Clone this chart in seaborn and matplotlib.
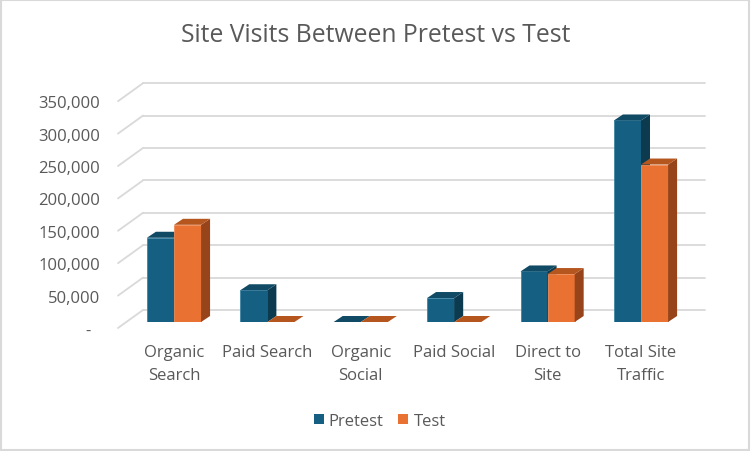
import matplotlib
matplotlib.use("Agg")
import matplotlib.pyplot as plt
import seaborn as sns
import pandas as pd
from matplotlib.patches import Polygon, Rectangle
from matplotlib.lines import Line2D
from matplotlib.transforms import ScaledTranslation, IdentityTransform

# ---- data ----
categories = ["Organic\nSearch", "Paid Search", "Organic\nSocial",
              "Paid Social", "Direct to\nSite", "Total Site\nTraffic"]
series = ["Pretest", "Test"]
pretest = [130000, 49000, 0, 37000, 78000, 311000]
test = [150000, 0, 0, 0, 74000, 243000]
yticks = [0, 50000, 100000, 150000, 200000, 250000, 300000, 350000]
ytick_labels = ["-  ", "50,000", "100,000", "150,000", "200,000",
                "250,000", "300,000", "350,000"]
title = "Site Visits Between Pretest vs Test"

df = pd.DataFrame({
    "category": categories * 2,
    "series": [series[0]] * len(categories) + [series[1]] * len(categories),
    "visits": pretest + test,
})

# ---- style ----
front = {"Pretest": "#156082", "Test": "#E97132"}
topc = {"Pretest": "#104a64", "Test": "#b5561f"}
sidec = {"Pretest": "#0c3b50", "Test": "#97441a"}
edgec = {"Pretest": "#3f86a6", "Test": "#f08d57"}
txt = "#595959"
grid = "#d9d9d9"
fs = 12

sns.set_theme(style="white")
plt.rcParams['font.family'] = ['Open Sans', 'DejaVu Sans']

W, H = 751, 452
fig = plt.figure(figsize=(W / 100, H / 100), dpi=100)
x0, x1 = 127, 689          # plane of the bar fronts, pixels
ybase, ytop = 323, 96.2
ax = fig.add_axes([x0 / W, (H - ybase) / H, (x1 - x0) / W, (ybase - ytop) / H])
ax.patch.set_alpha(0)

sns.barplot(data=df, x="category", y="visits", hue="series",
            order=categories, hue_order=series,
            palette=[front[s] for s in series], saturation=1,
            width=0.58, ax=ax, legend=False, errorbar=None)
ax.set_xlim(-0.503, 5.514)
ax.set_ylim(0, 350000)
for s in ax.spines.values():
    s.set_visible(False)
ax.set_xlabel("")
ax.set_ylabel("")
ax.set_yticks(yticks, ytick_labels)
ax.tick_params(axis="y", length=0, pad=19.4, labelsize=fs, labelcolor=txt)
ax.tick_params(axis="x", length=0, pad=15.5, labelsize=fs, labelcolor=txt)
for lab in ax.get_xticklabels():
    lab.set_linespacing(1.6)
    lab.set_verticalalignment("top")
for lab in ax.get_yticklabels():
    lab.set_transform(lab.get_transform() + ScaledTranslation(0, -0.06, fig.dpi_scale_trans))

# back wall gridlines + diagonal floor/wall ticks
gdx, gdy = 16, 12
fdx, fdy = 9, 6
off = ScaledTranslation(gdx / 100, gdy / 100, fig.dpi_scale_trans)
for v in yticks:
    ax.plot([0, 1], [v, v], color=grid, lw=1.3,
            transform=ax.get_yaxis_transform() + off, zorder=0.5, clip_on=False)

fig.canvas.draw()
for v in yticks:
    px, py = ax.transData.transform((ax.get_xlim()[0], v))
    ax.add_line(Line2D([px - fdx, px + gdx], [py - fdy, py + gdy], color=grid, lw=1.3,
                       transform=IdentityTransform(), clip_on=False, zorder=0.5))

# 3D faces of bars
bdx, bdy = 9, 6
for i, (cont, s) in enumerate(zip(ax.containers, series)):
    z = 2 + i
    for r in cont:
        r.set_zorder(z)
        r.set_edgecolor(edgec[s])
        r.set_linewidth(0.6)
        x, w, h = r.get_x(), r.get_width(), r.get_height()
        xl, yb = ax.transData.transform((x, 0))
        xr, yt = ax.transData.transform((x + w, h))
        side = Polygon([(xr, yb), (xr + bdx, yb + bdy), (xr + bdx, yt + bdy), (xr, yt)],
                       closed=True, facecolor=sidec[s], edgecolor="none",
                       transform=IdentityTransform(), clip_on=False, zorder=z + 0.1)
        top = Polygon([(xl, yt), (xr, yt), (xr + bdx, yt + bdy), (xl + bdx, yt + bdy)],
                      closed=True, facecolor=topc[s], edgecolor="none",
                      transform=IdentityTransform(), clip_on=False, zorder=z + 0.2)
        ax.add_patch(side)
        ax.add_patch(top)

# title
fig.text(0.5, (H - 36) / H, title, ha="center", va="center",
         fontsize=17.8, color=txt)

# legend
handles = [Rectangle((0, 0), 1, 1, facecolor=front[s], edgecolor="none") for s in series]
leg = fig.legend(handles, series, loc="center",
                 bbox_to_anchor=(0.5 + 4 / W, (H - 422) / H),
                 ncol=2, frameon=False, fontsize=fs, handlelength=0.6,
                 handleheight=0.6, handletextpad=0.3, columnspacing=0.9,
                 labelcolor=txt)

# outer border
fig.add_artist(Rectangle((0.001, 0.002), 0.997, 0.996, transform=fig.transFigure,
                         fill=False, edgecolor=grid, lw=1.5))

fig.savefig("out.png", dpi=100)
